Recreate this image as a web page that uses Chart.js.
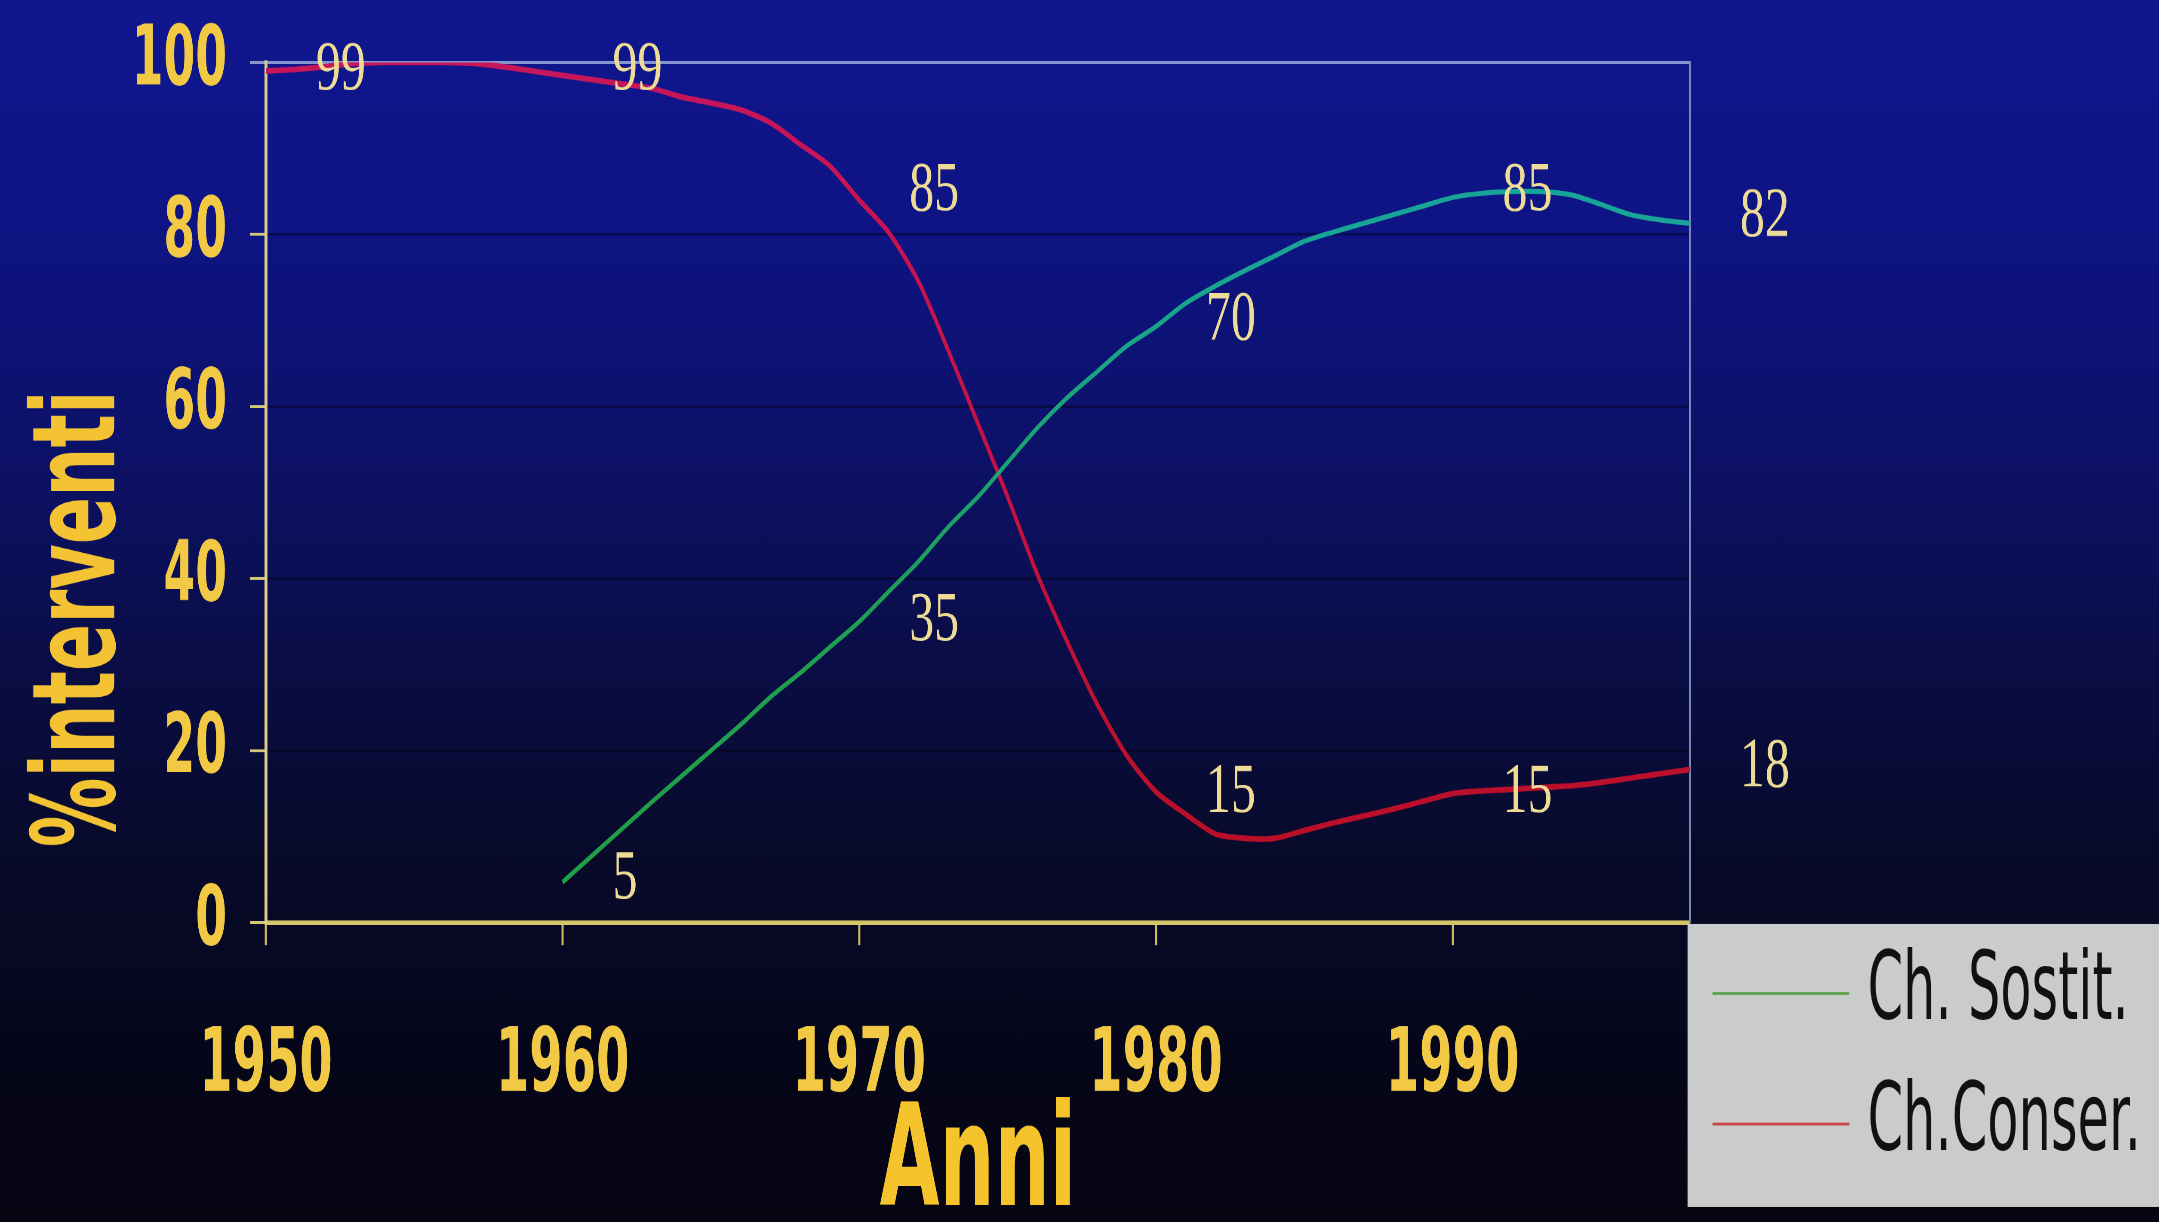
<!DOCTYPE html>
<html>
<head>
<meta charset="utf-8">
<title>% interventi per anno</title>
<script src="https://cdn.jsdelivr.net/npm/chart.js@4.4.1/dist/chart.umd.min.js"></script>
<style>
  html, body { margin: 0; padding: 0; }
  body {
    width: 2159px;
    height: 1222px;
    overflow: hidden;
    background: linear-gradient(180deg, #10168e 0%, #0e1484 18%, #0c1166 38%, #0a0d44 55%, #080a2a 70%, #06061a 86%, #050512 100%);
  }
  /* the slide photo is squeezed sideways and stretched tall, so the chart is too */
  #stage {
    position: absolute;
    left: 0;
    top: 0;
    width: 2510px;
    height: 861px;
    transform: scale(0.86016, 1.4193);
    transform-origin: 0 0;
  }
  #legend {
    position: absolute;
    left: 1962px;
    top: 651px;
    width: 548px;
    height: 199px;
    background: #c9cccb;
  }
  .swatch {
    position: absolute;
    left: 29px;
    width: 159px;
    height: 2px;
  }
  .legend-text {
    position: absolute;
    left: 209px;
    font: 66px "Liberation Sans Narrow", "DejaVu Sans Condensed", "Liberation Sans", sans-serif;
    line-height: 66px;
    color: #111;
    white-space: nowrap;
  }
</style>
</head>
<body>
<div id="stage">
  <canvas id="chart"></canvas>
  <div id="legend"></div>
</div>
<script>
// % interventi (chirurgia sostitutiva vs conservativa), 1950-1998

const consYears = [1950, 1951, 1952, 1953, 1954, 1955, 1956, 1957, 1958, 1959,
  1960, 1961, 1962, 1963, 1964, 1965, 1966, 1967, 1968, 1969,
  1970, 1971, 1972, 1973, 1974, 1975, 1976, 1977, 1978, 1979,
  1980, 1981, 1982, 1983, 1984, 1985, 1986, 1987, 1988, 1989,
  1990, 1991, 1992, 1993, 1994, 1995, 1996, 1997, 1998];
const consValues = [99, 99.2, 99.5, 99.9, 100, 100, 100, 99.9, 99.5, 99,
  98.5, 98, 97.5, 97, 96, 95.3, 94.5, 93, 90.5, 88,
  84, 80.2, 74.5, 66.5, 58, 49.5, 40.5, 32.7, 25.5, 19.5,
  15.2, 12.6, 10.3, 9.8, 9.8, 10.7, 11.6, 12.4, 13.2, 14.1,
  15, 15.3, 15.5, 15.7, 15.9, 16.3, 16.8, 17.3, 17.8];

const sostYears = [1960, 1961, 1962, 1963, 1964, 1965, 1966, 1967, 1968, 1969,
  1970, 1971, 1972, 1973, 1974, 1975, 1976, 1977, 1978, 1979,
  1980, 1981, 1982, 1983, 1984, 1985, 1986, 1987, 1988, 1989,
  1990, 1991, 1992, 1993, 1994, 1995, 1996, 1997, 1998];
const sostValues = [4.7, 7.8, 10.9, 14, 17, 20, 23, 26.2, 29, 32,
  35, 38.5, 42, 46, 49.5, 53.5, 57.5, 61, 64, 67,
  69.3, 72, 74, 75.8, 77.5, 79.2, 80.3, 81.3, 82.3, 83.3,
  84.3, 84.8, 85, 85, 84.6, 83.5, 82.3, 81.7, 81.3];

// numbers written on the curves
const consLabelYears = [1950, 1960, 1970, 1980, 1990, 1998];
const consLabels = [99, 99, 85, 15, 15, 18];
const sostLabelYears = [1960, 1970, 1980, 1990, 1998];
const sostLabels = [5, 35, 70, 85, 82];

const xTicks = [1950, 1960, 1970, 1980, 1990];
const yTicks = [0, 20, 40, 60, 80, 100];

const seriesNames = ['Ch. Sostit.', 'Ch.Conser.'];
const legendColors = ['#5fa452', '#c94646'];

const SX = 0.86016; // horizontal squeeze of #stage
const narrow = '"Liberation Sans Narrow", "DejaVu Sans Condensed", "Liberation Sans", sans-serif';
const yellow = '#f2c944';

function toPoints(xs, ys) {
  return xs.map((x, i) => ({ x: x, y: ys[i] }));
}

function verticalGradient(stops) {
  return (context) => {
    const chart = context.chart;
    const area = chart.chartArea;
    if (!area) return stops[stops.length - 1][1];
    const g = chart.ctx.createLinearGradient(0, area.top, 0, area.bottom);
    stops.forEach(s => g.addColorStop(s[0], s[1]));
    return g;
  };
}

// keep the plot box where the slide has it
function noPadding(s) {
  s.paddingTop = 0;
  s.paddingBottom = 0;
  s.paddingLeft = 0;
  s.paddingRight = 0;
}

const curveLabels = {
  id: 'curveLabels',
  afterDatasetsDraw(chart) {
    const { ctx } = chart;
    const x = chart.scales.x;
    const y = chart.scales.y;
    ctx.save();
    ctx.font = '50px "Liberation Serif", "Times New Roman", serif';
    ctx.fillStyle = '#eedb95';
    ctx.textAlign = 'left';
    ctx.textBaseline = 'middle';
    const put = (yrs, vals) => yrs.forEach((yr, i) => {
      ctx.save();
      ctx.translate(x.getPixelForValue(yr) + 58, y.getPixelForValue(vals[i]));
      ctx.scale(1 / SX, 1);
      ctx.fillText(String(vals[i]), 0, 0);
      ctx.restore();
    });
    put(consLabelYears, consLabels);
    put(sostLabelYears, sostLabels);

    // y axis title, sits lower than the axis middle on the slide
    ctx.font = 'bold 134px ' + narrow;
    ctx.fillStyle = '#f3c334';
    ctx.textAlign = 'center';
    const w = ctx.measureText('%interventi').width;
    ctx.translate(98, 436);
    ctx.rotate(-Math.PI / 2);
    ctx.scale(322 / w, 1);
    ctx.fillText('%interventi', 0, 0);
    ctx.restore();
  }
};

const chart = new Chart(document.getElementById('chart'), {
  type: 'line',
  data: {
    datasets: [{
      label: seriesNames[0],
      data: toPoints(sostYears, sostValues),
      borderColor: verticalGradient([[0, '#17a6a6'], [0.3, '#1aa58c'], [0.65, '#1f9f52'], [1, '#22a044']]),
      borderWidth: 3.6,
      pointRadius: 0,
      tension: 0.25,
      fill: false
    }, {
      label: seriesNames[1],
      data: toPoints(consYears, consValues),
      borderColor: verticalGradient([[0, '#c8165c'], [0.5, '#c41242'], [1, '#b80f22']]),
      borderWidth: 4,
      pointRadius: 0,
      tension: 0.25,
      fill: false
    }]
  },
  options: {
    responsive: true,
    maintainAspectRatio: false,
    animation: false,
    devicePixelRatio: 2,
    layout: { padding: { top: 44, left: 0, right: 0, bottom: 0 } },
    plugins: {
      legend: { display: false },
      tooltip: { enabled: false }
    },
    scales: {
      x: {
        type: 'linear',
        min: 1950,
        max: 1998,
        afterBuildTicks: s => { s.ticks = xTicks.map(v => ({ value: v })); },
        afterFit: s => { s.height = 211; noPadding(s); },
        ticks: {
          color: yellow,
          font: { family: narrow, size: 62, weight: 'bold' },
          padding: 49,
          maxRotation: 0,
          callback: v => String(v)
        },
        grid: { drawOnChartArea: false, tickLength: 16, tickColor: '#cdbb62', tickWidth: 2.4 },
        border: { color: '#d6c468', width: 3.5 },
        title: {
          display: true,
          text: 'Anni',
          color: '#f5c42c',
          font: { family: narrow, size: 100, weight: 'bold', lineHeight: 0.76 },
          padding: { top: 0, bottom: 0 }
        }
      },
      y: {
        min: 0,
        max: 100,
        afterBuildTicks: s => { s.ticks = yTicks.map(v => ({ value: v })); },
        afterFit: s => { s.width = 309.2; noPadding(s); },
        ticks: {
          color: yellow,
          font: { family: narrow, size: 59, weight: 'bold' },
          padding: 26.7
        },
        grid: {
          color: c => c.tick && c.tick.value === 100 ? '#8595cf' : 'rgba(0, 0, 12, 0.38)',
          lineWidth: 2,
          tickLength: 18.6,
          tickColor: c => c.tick && c.tick.value === 100 ? '#8595cf' : '#d4c778',
          tickWidth: 2
        },
        border: { color: '#d9cf8a', width: 3.4 }
      },
      y2: {
        position: 'right',
        min: 0,
        max: 100,
        afterFit: s => { s.width = 545.3; noPadding(s); },
        ticks: { display: false },
        grid: { drawOnChartArea: false, drawTicks: false },
        border: { color: '#7b8abd', width: 2.3 }
      }
    }
  },
  plugins: [curveLabels]
});

// legend box in the lower right corner
const legend = document.getElementById('legend');
chart.data.datasets.forEach((ds, i) => {
  const top = 49 + i * 91.5;
  const line = document.createElement('div');
  line.className = 'swatch';
  line.style.top = (top - 1) + 'px';
  line.style.background = legendColors[i];
  legend.appendChild(line);
  const text = document.createElement('div');
  text.className = 'legend-text';
  text.style.top = (top - 37) + 'px';
  text.textContent = ds.label;
  legend.appendChild(text);
});
</script>
</body>
</html>
